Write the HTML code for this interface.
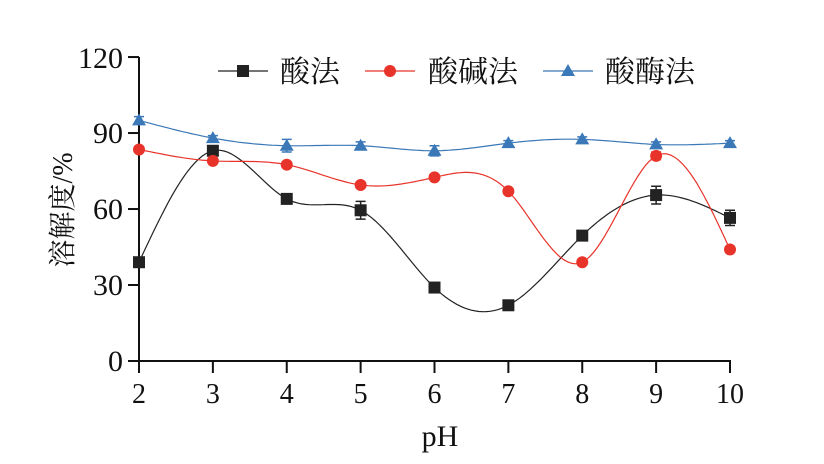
<!DOCTYPE html>
<html><head><meta charset="utf-8"><style>
body{margin:0;background:#fff;}
svg text{font-family:"Liberation Serif","Noto Serif CJK SC",serif;fill:#111;}
</style></head><body>
<svg id="s" width="824" height="459" xmlns="http://www.w3.org/2000/svg">
<g stroke="#111" stroke-width="2" fill="none">
<line x1="139" y1="57" x2="139" y2="362"/>
<line x1="138" y1="361" x2="731" y2="361"/>
</g>
<g id="ticks" stroke="#111" stroke-width="2"></g>
<g font-size="30" text-anchor="end">
<text x="123" y="371">0</text><text x="123" y="295">30</text><text x="123" y="219">60</text><text x="123" y="143">90</text><text x="123" y="68">120</text>
</g>
<g font-size="28" text-anchor="middle" id="xl"></g>
<text x="440" y="446" font-size="30" text-anchor="middle">pH</text>
<text transform="translate(72,210) rotate(-90)" font-size="28" text-anchor="middle">溶解度/%</text>
<g id="plot"></g>
<g font-size="30">
<line x1="218" y1="71" x2="268" y2="71" stroke="#222" stroke-width="1.2"/><rect x="237" y="65" width="12" height="12" fill="#222"/><text x="280" y="82">酸法</text>
<line x1="365" y1="71" x2="415" y2="71" stroke="#e8332a" stroke-width="1.2"/><circle cx="390" cy="71" r="6" fill="#e8332a"/><text x="428" y="82">酸碱法</text>
<line x1="543" y1="71" x2="593" y2="71" stroke="#3a78b8" stroke-width="1.2"/><polygon points="568,64 575,76 561,76" fill="#3a78b8"/><text x="605" y="82">酸酶法</text>
</g>
</svg>
<script>
const X=p=>139+(p-2)*73.875, Y=v=>361-v*2.533;
const NS="http://www.w3.org/2000/svg";
function el(t,a,par){const e=document.createElementNS(NS,t);for(const k in a)e.setAttribute(k,a[k]);document.getElementById(par).appendChild(e);return e;}
for(let v=0;v<=120;v+=30)el("line",{x1:128,y1:Y(v),x2:139,y2:Y(v)},"ticks");
for(let p=2;p<=10;p++){el("line",{x1:X(p),y1:361,x2:X(p),y2:373},"ticks");el("text",{x:X(p),y:403},"xl").textContent=p;}
function spline(ys){const n=ys.length;const m=new Array(n).fill(0);
 const a=[],b=[],c=[],d=[];for(let i=1;i<n-1;i++){a.push(1);b.push(4);c.push(1);d.push(6*(ys[i+1]-2*ys[i]+ys[i-1]));}
 const k=d.length;for(let i=1;i<k;i++){const w=a[i]/b[i-1];b[i]-=w*c[i-1];d[i]-=w*d[i-1];}
 const s=new Array(k);s[k-1]=d[k-1]/b[k-1];for(let i=k-2;i>=0;i--)s[i]=(d[i]-c[i]*s[i+1])/b[i];
 for(let i=0;i<k;i++)m[i+1]=s[i];
 let path="";for(let i=0;i<n-1;i++){for(let j=0;j<=20;j++){const t=j/20;
  const v=(1-t)*ys[i]+t*ys[i+1]+((1-t)**3-(1-t))*m[i]/6+(t**3-t)*m[i+1]/6;
  path+=(i==0&&j==0?"M":"L")+X(2+i+t).toFixed(1)+","+Y(v).toFixed(1);}}
 return path;}
const S=[
 {c:"#222",d:[39,83,64,59.5,29,22,49.5,65.5,56.5],e:[1,1,1,3.5,1,1,1,3.5,3],m:"sq"},
 {c:"#e8332a",d:[83.5,79,77.5,69.5,72.5,67,39,81,44],e:[1,1,1,1,1,1,1,1.5,1],m:"ci"},
 {c:"#3a78b8",d:[95,88,85,85,83,86,87.5,85.5,86],e:[1.5,1,2.5,1.5,2,1,1,1,1],m:"tr"}];
for(const s of S){el("path",{d:spline(s.d),stroke:s.c,"stroke-width":1.2,fill:"none"},"plot");
 s.d.forEach((v,i)=>{const x=X(2+i),y=Y(v),ey=s.e[i]*2.533;
  el("path",{d:`M${x},${y-ey}V${y+ey}M${x-5},${y-ey}H${x+5}M${x-5},${y+ey}H${x+5}`,stroke:s.c,"stroke-width":1.5,fill:"none"},"plot");
  if(s.m=="sq")el("rect",{x:x-6,y:y-6,width:12,height:12,fill:s.c},"plot");
  else if(s.m=="ci")el("circle",{cx:x,cy:y,r:6,fill:s.c},"plot");
  else el("polygon",{points:`${x},${y-7} ${x+7},${y+5} ${x-7},${y+5}`,fill:s.c},"plot");});}
</script>
</body></html>
